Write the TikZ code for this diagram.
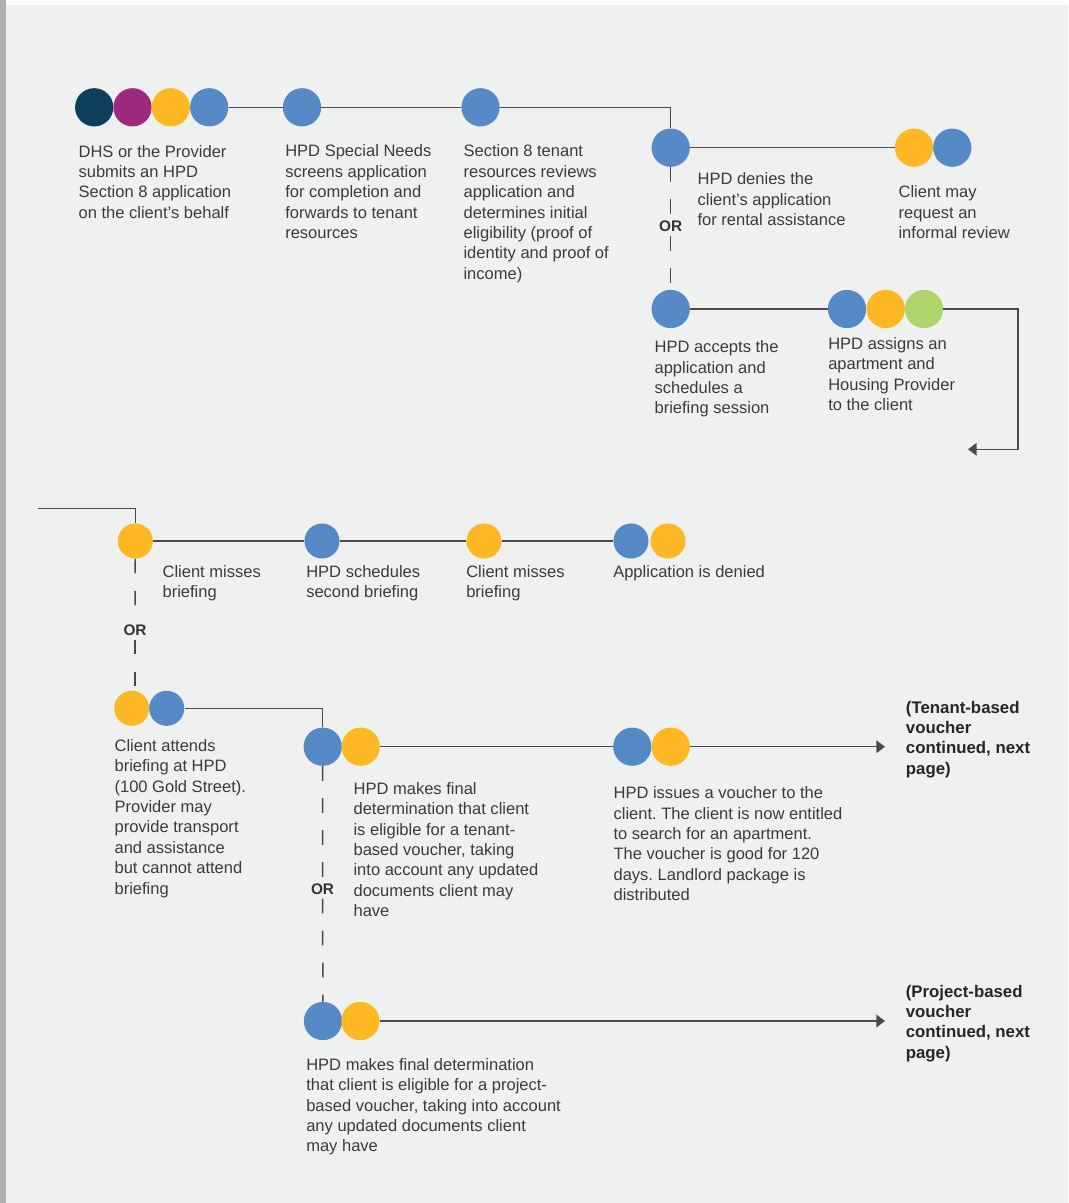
\documentclass[tikz,border=0pt]{standalone}
\usepackage{fontspec}
\setmainfont{Liberation Sans}
\usetikzlibrary{arrows.meta}
\frenchspacing
\definecolor{bgcol}{HTML}{EFF1F0}
\definecolor{stripcol}{HTML}{AFAFAF}
\definecolor{navy}{HTML}{0C3F5B}
\definecolor{purp}{HTML}{9D2A7E}
\definecolor{yel}{HTML}{FDB823}
\definecolor{blu}{HTML}{568AC6}
\definecolor{grn}{HTML}{AED46B}
\definecolor{linecol}{HTML}{4A4A4A}
\definecolor{txtcol}{HTML}{3B3B3B}
\tikzset{
  dot/.style={circle, inner sep=0pt, minimum size=28.7pt, fill=#1},
  sdot/.style={circle, inner sep=0pt, minimum size=26.3pt, fill=#1},
  conn/.style={draw=linecol, line width=1.1pt},
  dconn/.style={draw=linecol, line width=1.1pt, dash pattern=on 11pt off 13pt},
  arr/.style={conn, -{Triangle[length=6.5pt,width=9.5pt]}},
  txt/.style={anchor=north west, inner sep=0pt, align=left, text=txtcol,
    font=\fontsize{12.4pt}{15.3pt}\selectfont\frenchspacing},
  btxt/.style={anchor=north west, inner sep=0pt, align=left, text=black!85,
    font=\fontsize{12.6pt}{15.3pt}\selectfont\bfseries},
  ortxt/.style={inner sep=3pt, fill=bgcol, text=black!80,
    font=\fontsize{11.5pt}{13pt}\selectfont\bfseries}
}
\begin{document}
\begin{tikzpicture}[x=0.75pt,y=-0.75pt]
\useasboundingbox (0,0) rectangle (1068,1203);
\fill[white] (0,0) rectangle (1068,1203);
\fill[bgcol] (0,4.7) rectangle (1068,1203);
\fill[stripcol] (0,0) rectangle (6,1203);

% row 1 dots
\node[dot=navy] (a1) at (94.2,107.3) {};
\node[dot=purp] (a2) at (132.5,107.3) {};
\node[dot=yel]  (a3) at (170.8,107.3) {};
\node[dot=blu]  (a4) at (209.2,107.3) {};
\node[dot=blu]  (b)  at (302,107.3) {};
\node[dot=blu]  (c)  at (480.5,107.3) {};
\node[dot=blu]  (d)  at (670.7,147.7) {};
\node[dot=yel]  (e1) at (914,147.7) {};
\node[dot=blu]  (e2) at (952.3,147.7) {};
\node[dot=blu]  (f)  at (670.7,309) {};
\node[dot=blu]  (g1) at (847,309) {};
\node[dot=yel]  (g2) at (885.7,309) {};
\node[dot=grn]  (g3) at (924,309) {};

% row 3 dots
\node[sdot=yel] (h)  at (135.3,541) {};
\node[sdot=blu] (i)  at (322,541) {};
\node[sdot=yel] (j)  at (484,541) {};
\node[sdot=blu] (k1) at (631,541) {};
\node[sdot=yel] (k2) at (668,541) {};
\node[sdot=yel] (l1) at (131.7,708.3) {};
\node[sdot=blu] (l2) at (166.7,708.3) {};
\node[dot=blu]  (m1) at (322.7,746.7) {};
\node[dot=yel]  (m2) at (360.7,746.7) {};
\node[dot=blu]  (n1) at (632.3,746.7) {};
\node[dot=yel]  (n2) at (670.7,746.7) {};
\node[dot=blu]  (o1) at (323,1021) {};
\node[dot=yel]  (o2) at (360.4,1021) {};

% OR labels
\node[ortxt] (or1) at (670.7,226.5) {OR};
\node[ortxt] (or2) at (135,630) {OR};
\node[ortxt] (or3) at (322.5,889) {OR};

% helper coordinates
\coordinate (turn1) at (1018,449.3);
\coordinate (end1) at (968,449.3);
\coordinate (start2) at (38,508.7);
\coordinate (end2) at (885,746.7);
\coordinate (end3) at (885,1021);

% connectors
\draw[conn] (a4) -- (b);
\draw[conn] (b) -- (c);
\draw[conn] (c) -| (d);
\draw[conn] (d) -- (e1);
\draw[dconn] (d) -- (or1);
\draw[dconn] (or1) -- (f);
\draw[conn] (f) -- (g1);
\draw[arr] (g3) -| (turn1) -- (end1);
\draw[conn] (start2) -| (h);
\draw[conn] (h) -- (i);
\draw[conn] (i) -- (j);
\draw[conn] (j) -- (k1);
\draw[dconn] (h) -- (or2);
\draw[dconn] (or2) -- (or2 |- l1.north);
\draw[conn] (l2) -| (m1);
\draw[conn] (m2) -- (n1);
\draw[arr] (n2) -- (end2);
\draw[dconn] (m1) -- (or3);
\draw[dconn] (or3) -- (o1);
\draw[arr] (o2) -- (end3);

% texts
\node[txt] (ta) at (78.3,144.8) {DHS or the Provider\\submits an HPD\\Section 8 application\\on the client’s behalf};
\node[txt] (tb) at (285,144.6) {HPD Special Needs\\screens application\\for completion and\\forwards to tenant\\resources};
\node[txt] (tc) at (463.3,144.6) {Section 8 tenant\\resources reviews\\application and\\determines initial\\eligibility (proof of\\identity and proof of\\income)};
\node[txt] (td) at (697.3,172.4) {HPD denies the\\client’s application\\for rental assistance};
\node[txt] (te) at (898.3,185.4) {Client may\\request an\\informal review};
\node[txt] (tf) at (654.3,340.4) {HPD accepts the\\application and\\schedules a\\briefing session};
\node[txt] (tg) at (828,337.1) {HPD assigns an\\apartment and\\Housing Provider\\to the client};
\node[txt] (th) at (162.3,564.8) {Client misses\\briefing};
\node[txt] (ti) at (306,564.8) {HPD schedules\\second briefing};
\node[txt] (tj) at (466,564.8) {Client misses\\briefing};
\node[txt] (tk) at (613,564.8) {Application is denied};
\node[txt] (tl) at (114.3,739.1) {Client attends\\briefing at HPD\\(100 Gold Street).\\Provider may\\provide transport\\and assistance\\but cannot attend\\briefing};
\node[txt] (tm) at (353.3,782.1) {HPD makes final\\determination that client\\is eligible for a tenant-\\based voucher, taking\\into account any updated\\documents client may\\have};
\node[txt] (tn) at (613.3,786.4) {HPD issues a voucher to the\\client. The client is now entitled\\to search for an apartment.\\The voucher is good for 120\\days. Landlord package is\\distributed};
\node[btxt] (tp) at (905.7,700.6) {(Tenant-based\\voucher\\continued, next\\page)};
\node[btxt] (tq) at (905.6,984.6) {(Project-based\\voucher\\continued, next\\page)};
\node[txt] (to) at (306,1058.1) {HPD makes final determination\\that client is eligible for a project-\\based voucher, taking into account\\any updated documents client\\may have};
\end{tikzpicture}
\end{document}
